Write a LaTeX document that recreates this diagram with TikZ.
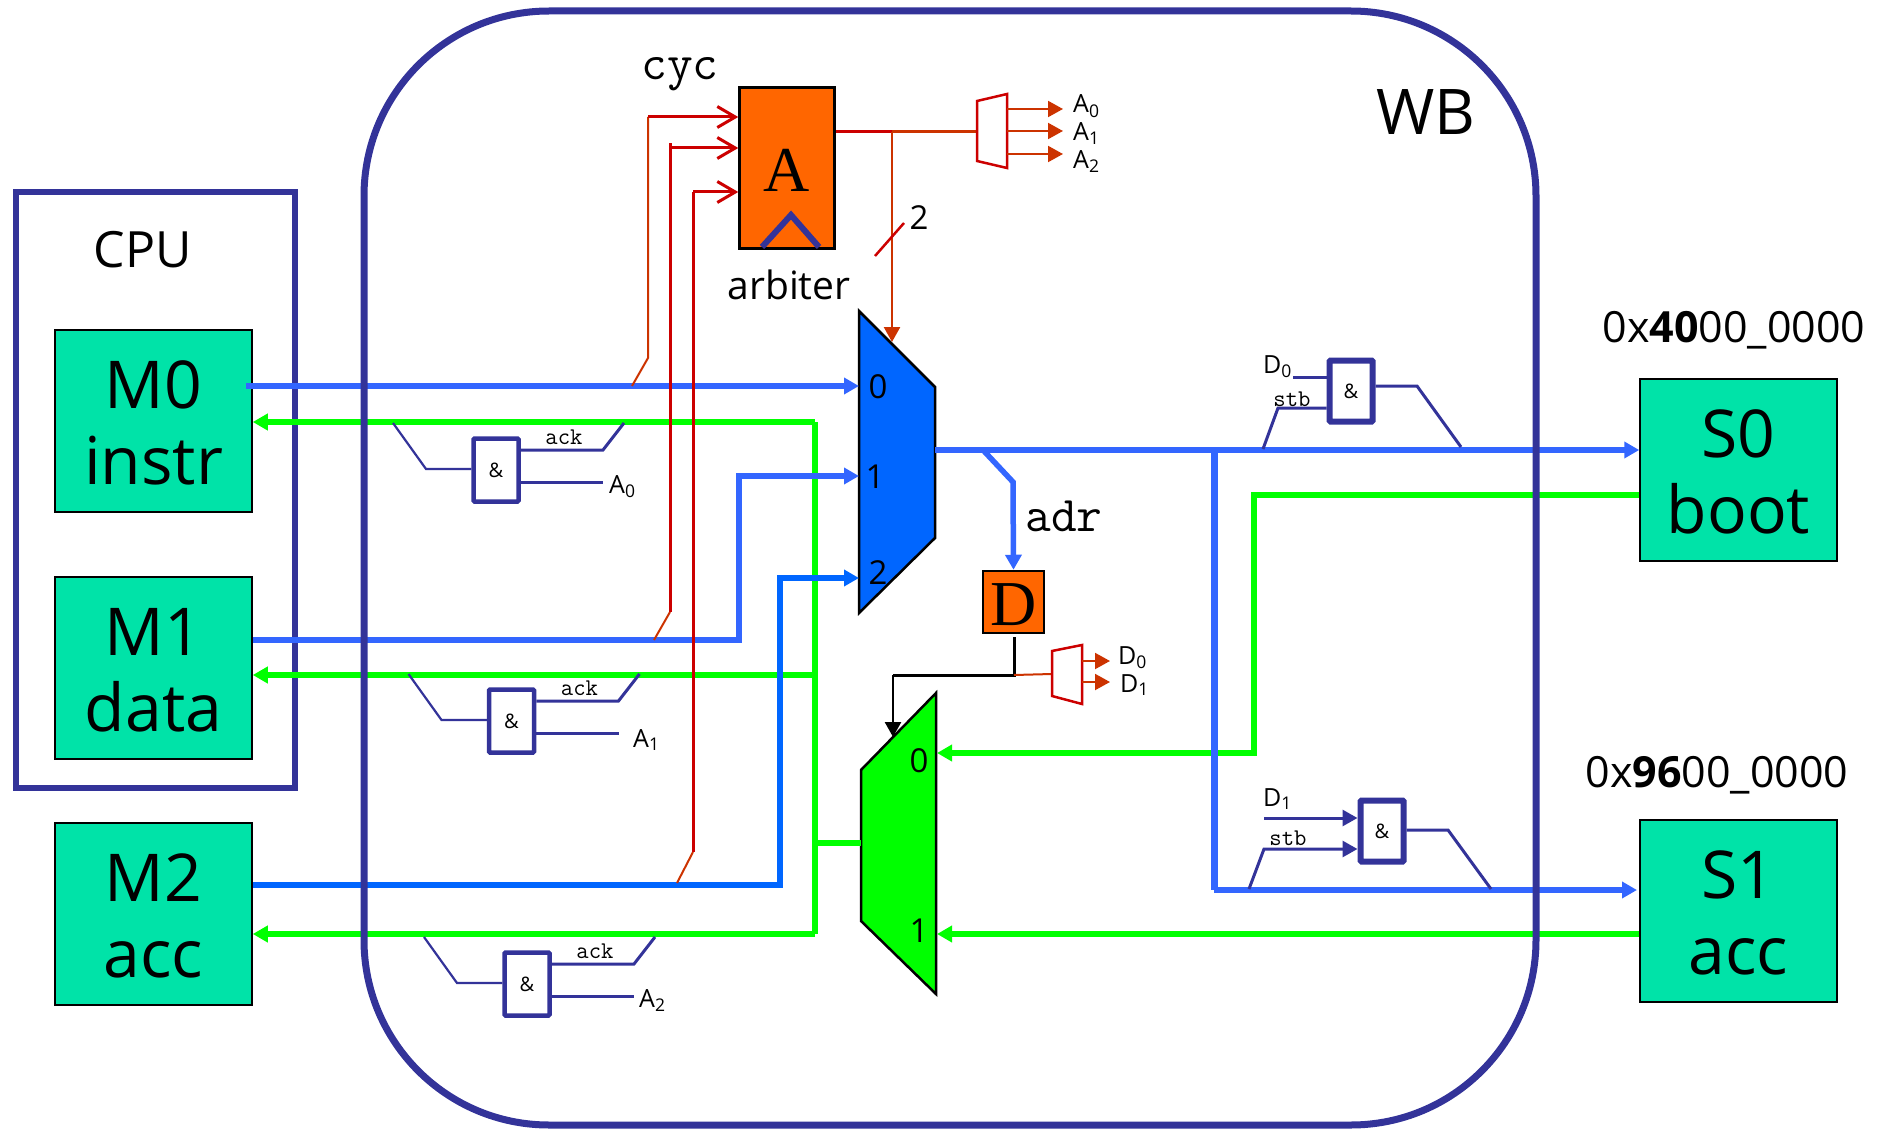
\documentclass[tikz,border=0pt]{standalone}
\usepackage{fontspec}
\setmainfont{Open Sans}
\newfontfamily\boxfont{Liberation Serif}
\usetikzlibrary{arrows.meta}
\definecolor{wbblue}{HTML}{333399}
\definecolor{busblue}{HTML}{3366FF}
\definecolor{muxblue}{HTML}{0066FF}
\definecolor{busgreen}{HTML}{00FF00}
\definecolor{boxteal}{HTML}{00E3A8}
\definecolor{arbred}{HTML}{CC0000}
\definecolor{decred}{HTML}{CC3300}
\definecolor{arborange}{HTML}{FF6600}
\tikzset{
	master/.style={draw=black, line width=1.5pt, fill=boxteal, minimum width=197pt, minimum height=182pt, inner sep=0pt, align=center, text height=126pt, text depth=0pt, font=\fontsize{66}{76}\selectfont},
	region/.style={draw=wbblue, line width=6pt},
	gate/.style={draw=wbblue, fill=white, line width=4.5pt, rounded corners=1pt, minimum width=45pt, minimum height=63pt, inner sep=0pt, font=\fontsize{20}{20}\selectfont},
	gate thick/.style={gate, line width=6pt, minimum width=43pt, minimum height=61pt},
	arbbox/.style={draw=black, fill=arborange, line width=2.5pt, inner sep=0pt, text depth=0pt, font=\boxfont\fontsize{64}{64}\selectfont},
	mux/.style={draw=black, line width=2.5pt},
	decoder/.style={draw=arbred, fill=white, line width=2.5pt},
	busb/.style={draw=busblue, line width=5.5pt},
	busm/.style={draw=muxblue, line width=6pt},
	busg/.style={draw=busgreen, line width=6pt},
	redline/.style={draw=arbred, line width=3pt},
	tapline/.style={draw=decred, line width=2pt},
	wire/.style={draw=wbblue, line width=3pt},
	thin wire/.style={draw=wbblue, line width=2.2pt},
	lbl/.style={inner sep=0pt},
	big/.style={lbl, font=\fontsize{50}{50}\selectfont},
	port/.style={lbl, font=\fontsize{33}{33}\selectfont},
	sub/.style={lbl, anchor=base west, font=\fontsize{25}{25}\selectfont},
	mono/.style={lbl, anchor=base, font=\ttfamily\fontsize{50}{50}\selectfont},
	small mono/.style={lbl, font=\ttfamily\fontsize{24}{24}\selectfont}
}
\begin{document}
\begin{tikzpicture}[x=1pt, y=-1pt,
	>={Triangle[length=15pt,width=16pt]},
	barb/.style={-{Straight Barb[length=18pt,width=21pt]}}]
	\useasboundingbox (0,0) rectangle (1883,1129);

	% boxes on the left and right
	\node[region, minimum width=279pt, minimum height=596pt] (cpu) at (155,490) {};
	\node[master] (m0) at (153.5,421) {M0\\instr};
	\node[master] (m1) at (153.5,668) {M1\\data};
	\node[master] (m2) at (153.5,914) {M2\\acc};
	\node[master] (s0) at (1738.5,470) {S0\\boot};
	\node[master] (s1) at (1738.5,911) {S1\\acc};
	\node[big] (cpulbl) at (143,250) {CPU};
	\node[lbl, font=\fontsize{43}{43}\selectfont] (s0adr) at (1734,330) {0x\textbf{40}00\_0000};
	\node[lbl, font=\fontsize{43}{43}\selectfont] (s1adr) at (1717,775) {0x\textbf{96}00\_0000};

	% muxes
	\draw[mux, fill=muxblue] (859,311) -- (935,387) -- (935,538) -- (859,613) -- cycle;
	\draw[mux, fill=busgreen] (861,770) -- (936,693) -- (936,994) -- (861,921) -- cycle;
	\node[port] (b0) at (878,387) {0};
	\node[port] (b1) at (875,477) {1};
	\node[port] (b2) at (878,573) {2};
	\node[port] (g0lbl) at (919,761) {0};
	\node[port] (g1lbl) at (919,931) {1};

	% arbiter and decoder
	\node[arbbox, text height=48pt, minimum width=95pt, minimum height=161pt] (arb) at (787,168) {A};
	\coordinate (chl) at (762,247);
	\coordinate (cht) at (791,215);
	\coordinate (chr) at (819,247);
	\draw[draw=wbblue, line width=6pt] (chl) -- (cht) -- (chr);
	\node[lbl, font=\fontsize{39}{39}\selectfont] (arblbl) at (789,285) {arbiter};
	\node[mono] (cyc) at (680,80) {cyc};
	\node[arbbox, text height=46pt, minimum width=61pt, minimum height=62pt] (dec) at (1013.5,602) {D};
	\node[mono] (adr) at (1064,531) {adr};
	\node[big, font=\fontsize{63}{63}\selectfont] (wblbl) at (1426,112) {WB};

	% green return buses
	\coordinate (ret0) at (815,422);
	\coordinate (ret1) at (815,675);
	\coordinate (ret2) at (815,934);
	\coordinate (gstub) at (861,843);
	\coordinate (gm0) at (937,753);
	\coordinate (gm1) at (937,934);
	\coordinate (s0ret) at (1254,495);
	\draw[busg] (ret0) -- (ret2);
	\draw[busg] (ret1 |- gstub) -- (gstub);
	\draw[busg, ->] (ret0) -- (m0.east |- ret0);
	\draw[busg, ->] (ret1) -- (m1.east |- ret1);
	\draw[busg, ->] (ret2) -- (m2.east |- ret2);
	\draw[busg, ->] (s0.west |- s0ret) -- (s0ret) -- (s0ret |- gm0) -- (gm0);
	\draw[busg, ->] (s1.west |- gm1) -- (gm1);

	% blue request buses
	\coordinate (req0) at (859,386);
	\coordinate (req1) at (859,476);
	\coordinate (req2) at (859,578);
	\coordinate (m1bus) at (739,640);
	\coordinate (m2bus) at (780,885);
	\coordinate (m0out) at (246,386);
	\coordinate (muxout) at (935,450);
	\coordinate (adrtap) at (983,450);
	\coordinate (adrbend) at (1013,482);
	\coordinate (s1bend) at (1214,890);
	\coordinate (s1in) at (1637,890);
	\draw[busb, ->] (m0out) -- (req0);
	\draw[busb, ->, line width=6pt] (m1.east |- m1bus) -- (m1bus) -- (m1bus |- req1) -- (req1);
	\draw[busm, ->] (m2.east |- m2bus) -- (m2bus) -- (m2bus |- req2) -- (req2);
	\draw[busb, ->] (muxout) -- (s0.west |- muxout);
	\draw[busb, ->] (adrtap) -- (adrbend) -- (dec.north);
	\draw[busb, line width=7pt] (s1bend |- muxout) -- (s1bend);
	\draw[busb, ->] (s1bend) -- (s1in);

	% grant lines
	\coordinate (cyc0) at (648,117);
	\coordinate (cyc1) at (670,148);
	\coordinate (cyc2) at (693,192);
	\coordinate (bend0) at (648,358);
	\coordinate (bend1) at (670,612);
	\coordinate (bend2) at (693,852);
	\coordinate (tap0) at (632,386);
	\coordinate (tap1) at (654,640);
	\coordinate (tap2) at (677,883);
	\coordinate (top1) at (670,143);
	\draw[tapline] (tap0) -- (bend0) -- (cyc0);
	\draw[tapline] (tap1) -- (bend1);
	\draw[tapline] (tap2) -- (bend2);
	\draw[redline] (bend1) -- (top1);
	\draw[redline] (bend2) -- (cyc2);
	\foreach \i in {0,1,2}
		\draw[redline, barb] (cyc\i) -- (arb.west |- cyc\i);

	% arbiter output
	\coordinate (arbout) at (892,132);
	\coordinate (decin) at (977,132);
	\coordinate (decout) at (1007,132);
	\coordinate (sel) at (892,342);
	\coordinate (slashl) at (875,256);
	\coordinate (slashr) at (904,223);
	\draw[redline] (arb.east |- arbout) -- (arbout);
	\draw[decred, line width=3pt] (arbout) -- (decin);
	\draw[tapline, ->, line width=2.5pt] (arbout) -- (sel);
	\draw[draw=arbred, line width=2.5pt] (slashl) -- (slashr);
	\node[port] (two) at (919,218) {2};
	\draw[decoder] (977,101) -- (1007,94) -- (1007,168) -- (977,161) -- cycle;
	\foreach \i/\y/\b in {0/109/113,1/131/141,2/154/168} {
		\coordinate (a\i) at (1063,\y);
		\draw[tapline, ->] (decout |- a\i) -- (a\i);
		\node[sub] (al\i) at (1073,\b) {A\textsubscript{\i}};
	}

	% decode output
	\coordinate (dtop) at (1014,637);
	\coordinate (dmid) at (1014,675);
	\coordinate (dleft) at (893,675);
	\coordinate (dsel) at (893,737);
	\coordinate (ddec) at (1052,674);
	\coordinate (ddecout) at (1082,674);
	\draw[black, line width=3pt] (dtop) -- (dmid) -- (dleft);
	\draw[black, line width=2.5pt, ->] (dleft) -- (dsel);
	\draw[tapline] (dmid) -- (ddec);
	\draw[decoder] (1052,651) -- (1082,645) -- (1082,704) -- (1052,696) -- cycle;
	\foreach \i/\y/\x/\b in {0/661/1118/664,1/682/1120/692} {
		\coordinate (d\i) at (1110,\y);
		\draw[tapline, ->] (ddecout |- d\i) -- (d\i);
		\node[sub] (dl\i) at (\x,\b) {D\textsubscript{\i}};
	}

	% ack gates
	\foreach \i/\x/\y/\lx/\ly in {0/496/470/609/493,1/511.5/721/633/747,2/527/984/639/1007} {
		\node[gate] (ackg\i) at (\x,\y) {\&};
		\coordinate (ackl\i) at (\x-103,\y-47);
		\coordinate (ackm\i) at (\x-70,\y-1);
		\coordinate (ackb\i) at (\x+107,\y-20);
		\coordinate (ackr\i) at (\x+128,\y-47);
		\coordinate (acka\i) at (\x+107,\y+12);
		\draw[thin wire] (ackl\i) -- (ackm\i) -- (ackg\i.west |- ackm\i);
		\draw[wire] (ackg\i.east |- ackb\i) -- (ackb\i) -- (ackr\i);
		\draw[wire] (ackg\i.east |- acka\i) -- (acka\i);
		\node[small mono] (ackt\i) at (\x+68,\y-33) {ack};
		\node[sub] (ackn\i) at (\lx,\ly) {A\textsubscript{\i}};
	}

	% stb gates
	\node[gate thick] (stbg0) at (1351,391) {\&};
	\coordinate (d0w) at (1293,377);
	\coordinate (stb0k) at (1278,408);
	\coordinate (stb0t) at (1263,449);
	\coordinate (stb0o) at (1417,386);
	\coordinate (stb0e) at (1461,447);
	\draw[wire] (d0w) -- (stbg0.west |- d0w);
	\draw[wire] (stb0t) -- (stb0k) -- (stbg0.west |- stb0k);
	\draw[wire] (stbg0.east |- stb0o) -- (stb0o) -- (stb0e);
	\node[sub] (d0lbl) at (1263,373) {D\textsubscript{0}};
	\node[small mono] (stb0) at (1292,399) {stb};

	\node[gate thick] (stbg1) at (1382,831) {\&};
	\coordinate (d1w) at (1264,818);
	\coordinate (stb1k) at (1264,849);
	\coordinate (stb1t) at (1249,889);
	\coordinate (stb1o) at (1448,830);
	\coordinate (stb1e) at (1491,889);
	\draw[wire, ->] (d1w) -- (stbg1.west |- d1w);
	\draw[wire, ->] (stb1t) -- (stb1k) -- (stbg1.west |- stb1k);
	\draw[wire] (stbg1.east |- stb1o) -- (stb1o) -- (stb1e);
	\node[sub] (d1lbl) at (1263,806) {D\textsubscript{1}};
	\node[small mono] (stb1) at (1288,838) {stb};

	% WB outline goes over the buses
	\node[region, line width=7pt, rounded corners=185pt, minimum width=1172pt, minimum height=1114pt] (wb) at (950,568) {};
\end{tikzpicture}
\end{document}
